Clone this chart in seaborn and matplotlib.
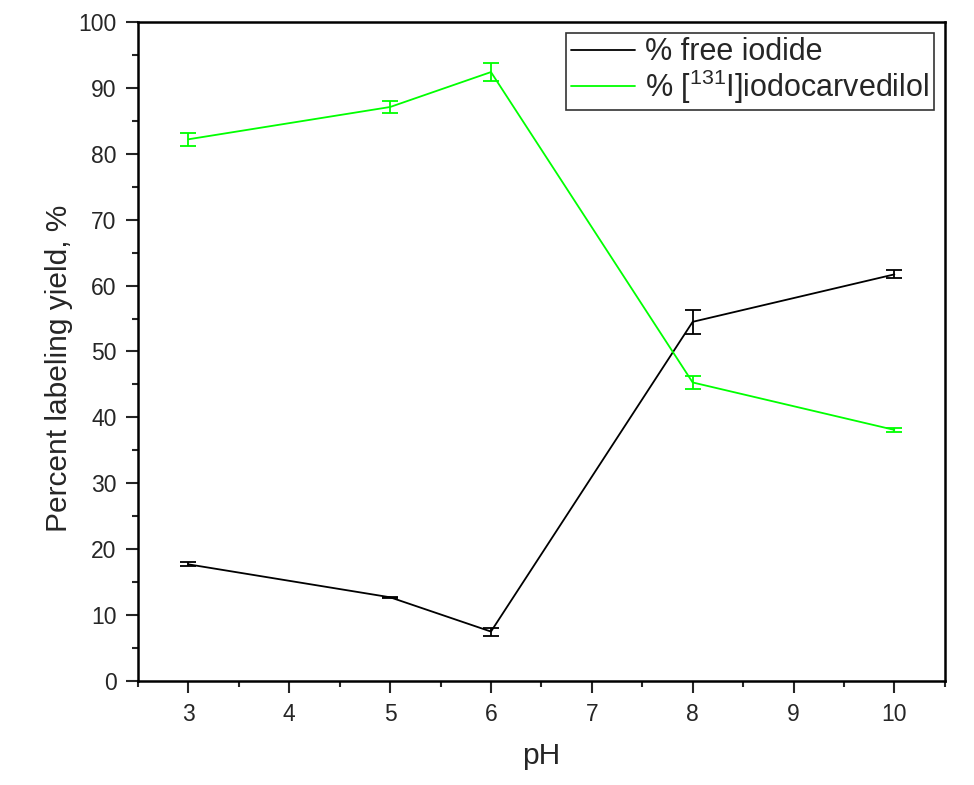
import numpy as np
import pandas as pd
import matplotlib
matplotlib.use("Agg")
import matplotlib.pyplot as plt
import seaborn as sns

# values
ph = [3, 5, 6, 8, 10]
free_iodide = [17.7, 12.7, 7.5, 54.5, 61.7]
free_iodide_err = [0.3, 0.1, 0.6, 1.8, 0.6]
carvedilol = [82.2, 87.1, 92.4, 45.3, 38.1]
carvedilol_err = [1.0, 0.9, 1.4, 1.0, 0.3]
series_names = ["% free iodide", r"% [$^{\mathrm{131}}$I]iodocarvedilol"]
series_colors = ["black", "#00ff00"]

sns.set_style("ticks")
plt.rcParams["font.family"] = ["Liberation Sans", "DejaVu Sans"]
plt.rcParams["mathtext.fontset"] = "custom"
plt.rcParams["mathtext.rm"] = "Liberation Sans"
plt.rcParams["mathtext.it"] = "Liberation Sans:italic"

df = pd.DataFrame({
    "pH": ph * 2,
    "yield": free_iodide + carvedilol,
    "err": free_iodide_err + carvedilol_err,
    "series": [series_names[0]] * len(ph) + [series_names[1]] * len(ph),
})

fig = plt.figure(figsize=(9.74, 7.85), dpi=100)
ax = fig.add_axes([0.1417, 0.1325, 0.8283, 0.8395])

sns.lineplot(data=df, x="pH", y="yield", hue="series", palette=series_colors,
             linewidth=1.3, ax=ax)
for name, col in zip(series_names, series_colors):
    sub = df[df["series"] == name]
    ax.errorbar(sub["pH"], sub["yield"], yerr=sub["err"], fmt="none",
                ecolor=col, elinewidth=1.3, capsize=6, capthick=1.3)

ax.set_xlim(2.5, 10.5)
ax.set_ylim(0, 100)
ax.set_xticks(np.arange(3, 11, 1))
ax.set_xticks(np.arange(2.5, 10.6, 0.5), minor=True)
ax.set_yticks(np.arange(0, 101, 10))
ax.set_yticks(np.arange(0, 101, 5), minor=True)
ax.tick_params(which="major", direction="out", length=8.5, width=1.5,
               labelsize=16.5, pad=7)
ax.tick_params(which="minor", direction="out", length=4.5, width=1.5)
for sp in ax.spines.values():
    sp.set_linewidth(1.8)
    sp.set_color("black")

ax.set_xlabel("pH", fontsize=21.5, labelpad=12)
ax.set_ylabel("Percent labeling yield, %", fontsize=21.5)
ax.yaxis.set_label_coords(-0.08, 0.475)

leg = ax.legend(loc="upper right", fontsize=22, frameon=True, fancybox=False,
                edgecolor="black", handlelength=2.1, handletextpad=0.35,
                borderaxespad=0.35, labelspacing=0.0, borderpad=0.15)
leg.get_frame().set_linewidth(1.2)

fig.savefig("out.png", dpi=100)
